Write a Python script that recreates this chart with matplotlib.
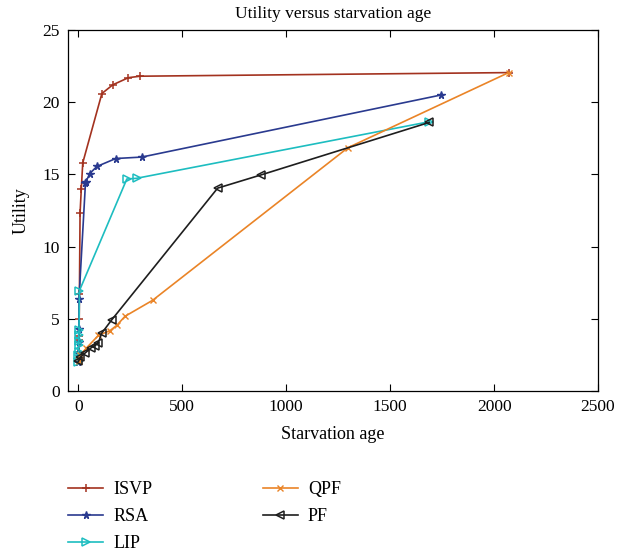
import matplotlib
matplotlib.use("Agg")
import matplotlib.pyplot as plt

# ---- data ----
isvp_x = [0, 1, 2, 3, 4, 5, 8, 14, 21, 113, 165, 241, 297, 2070]
isvp_y = [2.2, 2.7, 3.5, 3.8, 5.0, 6.7, 12.3, 14.0, 15.8, 20.6, 21.2, 21.7, 21.8, 22.05]

rsa_x = [0, 0, 1, 2, 3, 34, 37, 54, 89, 180, 305, 1745]
rsa_y = [2.0, 2.6, 3.4, 4.3, 6.4, 14.4, 14.5, 15.05, 15.55, 16.1, 16.2, 20.5]

lip_x = [0, 0, 1, 1, 2, 2, 3, 5, 233, 280, 1689]
lip_y = [2.03, 2.49, 2.72, 3.19, 3.46, 3.88, 4.25, 6.95, 14.68, 14.73, 18.65]

qpf_x = [3, 10, 37, 96, 152, 185, 224, 357, 1297, 2070]
qpf_y = [2.1, 2.5, 2.95, 3.85, 4.18, 4.55, 5.17, 6.28, 16.85, 22.05]

pf_x = [0, 10, 30, 62, 80, 95, 112, 160, 670, 880, 1688]
pf_y = [2.05, 2.35, 2.6, 3.0, 3.15, 3.3, 4.0, 4.92, 14.05, 14.97, 18.6]

x_ticks = [0, 500, 1000, 1500, 2000, 2500]
y_ticks = [0, 5, 10, 15, 20, 25]

plt.rcParams['font.family'] = ['Liberation Serif', 'DejaVu Serif']

fig = plt.figure(figsize=(6.21, 5.58), dpi=100)
ax = fig.add_axes([68/621, 1-391/558, (598-68)/621, (391-30)/558])

lw = 1.2
ax.plot(isvp_x, isvp_y, color='#A3321F', marker='+', ms=6, mew=1.1, lw=lw, label='ISVP')
ax.plot(rsa_x, rsa_y, color='#2A3A8F', marker='*', ms=5.5, lw=lw, label='RSA')
ax.plot(lip_x, lip_y, color='#1DBDC0', marker='>', ms=6, mfc='none', mew=1.1, lw=lw, label='LIP')
ax.plot(qpf_x, qpf_y, color='#EA8427', marker='x', ms=4.5, mew=1.0, lw=lw, label='QPF')
ax.plot(pf_x, pf_y, color='#1E1E1E', marker='<', ms=6, mfc='none', mew=1.1, lw=lw, label='PF')

ax.set_xlim(-50, 2500)
ax.set_ylim(0, 25)
ax.set_xticks(x_ticks)
ax.set_yticks(y_ticks)
ax.tick_params(direction='in', top=True, right=True, labelsize=12.5, length=5, pad=6)
for s in ax.spines.values():
    s.set_linewidth(0.9)

ax.set_title('Utility versus starvation age', fontsize=12.5, pad=9)
ax.set_xlabel('Starvation age', fontsize=13, labelpad=8)
ax.set_ylabel('Utility', fontsize=13, labelpad=9)

fig.legend(loc='upper left', bbox_to_anchor=(61/621, 1-474/558), ncol=2, frameon=False,
           fontsize=13, handlelength=1.95, handletextpad=0.55, labelspacing=0.55,
           columnspacing=6.1, borderaxespad=0)

fig.savefig('out.png', dpi=100)
